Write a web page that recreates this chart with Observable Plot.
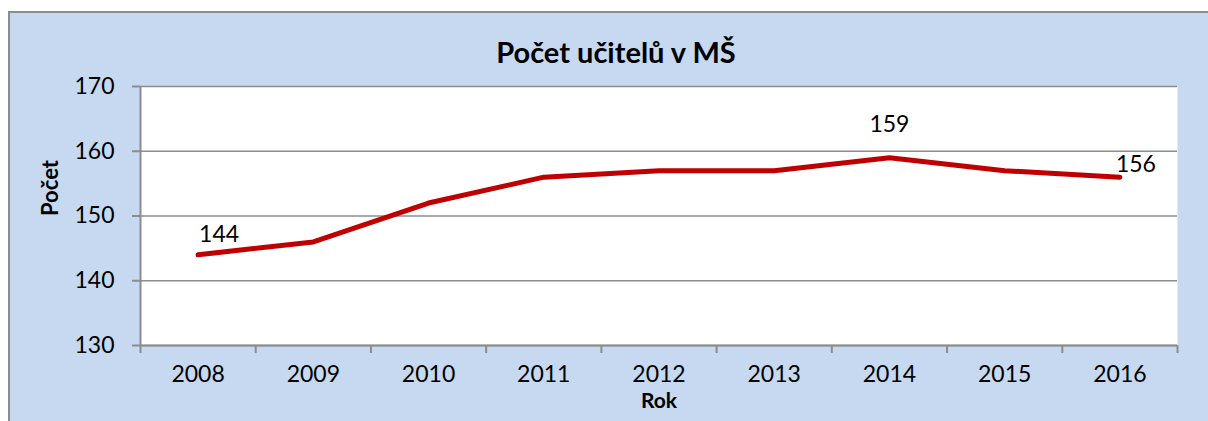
<!DOCTYPE html>
<html>
<head>
<meta charset="utf-8">
<script src="https://cdn.jsdelivr.net/npm/d3@7"></script>
<script src="https://cdn.jsdelivr.net/npm/@observablehq/plot@0.6"></script>
<style>
  html, body { margin: 0; padding: 0; background: #ffffff; }
  #wrap { position: relative; width: 1208px; height: 421px; overflow: hidden; font-family: Lato, "Open Sans", sans-serif; }
  #bg { position: absolute; left: 8px; top: 11px; width: 1210px; height: 420px; background: #C6D9F1;
        border-top: 2px solid #8c8c8c; border-left: 2px solid #8c8c8c; }
  #title { position: absolute; left: 0; top: 37px; width: 1232px; text-align: center; font-weight: bold;
           font-size: 29px; line-height: 29px; color: #000; }
  #chart { position: absolute; left: 0; top: 60px; }
</style>
</head>
<body>
<div id="wrap">
  <div id="bg"></div>
  <div id="title">Počet učitelů v MŠ</div>
  <div id="chart"></div>
</div>
<script>
const years = [2008, 2009, 2010, 2011, 2012, 2013, 2014, 2015, 2016];
const teachers = [144, 146, 152, 156, 157, 157, 159, 157, 156];
const yTicks = [130, 140, 150, 160, 170];
const labelYears = [2008, 2014, 2016];
const titleText = "Počet učitelů v MŠ";
const xTitle = "Rok";
const yTitle = "Počet";

const data = years.map((y, i) => ({year: y, value: teachers[i]}));
const bounds = [...years.map(y => y - 0.5), years[years.length - 1] + 0.5];
const lab = y => data.filter(d => d.year === y);
const gray = "#8c8c8c";

const chart = Plot.plot({
  width: 1208,
  height: 361,
  marginLeft: 140,
  marginRight: 31,
  marginTop: 26,
  marginBottom: 76,
  style: {background: "transparent", fontFamily: "Lato, 'Open Sans', sans-serif", fontSize: "23px", color: "#000"},
  x: {type: "linear", domain: [bounds[0], bounds[bounds.length - 1]]},
  y: {domain: [yTicks[0], yTicks[yTicks.length - 1]]},
  marks: [
    Plot.frame({fill: "#ffffff", stroke: null}),
    Plot.gridY(yTicks, {stroke: gray, strokeOpacity: 1, strokeWidth: 1.5}),
    Plot.ruleX([bounds[0]], {stroke: gray, strokeWidth: 2}),
    Plot.ruleY([yTicks[0]], {stroke: gray, strokeWidth: 2}),
    Plot.axisY({ticks: yTicks, tickSize: 8, tickPadding: 18, stroke: gray, strokeWidth: 2, label: null, fontSize: 23, fill: "#000"}),
    Plot.axisX({ticks: bounds, tickSize: 8, tickFormat: () => "", stroke: gray, strokeWidth: 2, label: null}),
    Plot.axisX({ticks: years, tickSize: 0, tickPadding: 20, tickFormat: d => String(d), label: null, fontSize: 23, fill: "#000"}),
    Plot.line(data, {x: "year", y: "value", stroke: "#C00000", strokeWidth: 5, strokeLinecap: "round", strokeLinejoin: "round"}),
    Plot.text(lab(labelYears[0]), {x: "year", y: "value", text: d => String(d.value), textAnchor: "start", dx: 1, dy: -20, fontSize: 23, fill: "#000"}),
    Plot.text(lab(labelYears[1]), {x: "year", y: "value", text: d => String(d.value), dy: -33, fontSize: 23, fill: "#000"}),
    Plot.text(lab(labelYears[2]), {x: "year", y: "value", text: d => String(d.value), textAnchor: "start", dx: -4, dy: -13, fontSize: 23, fill: "#000"}),
    Plot.text([xTitle], {frameAnchor: "bottom", dy: 62, fontSize: 21, fontWeight: "bold", fill: "#000"}),
    Plot.text([yTitle], {frameAnchor: "left", dx: -90, rotate: -90, fontSize: 22, fontWeight: "bold", fill: "#000"})
  ]
});
document.getElementById("chart").appendChild(chart);
document.getElementById("title").textContent = titleText;
</script>
</body>
</html>
